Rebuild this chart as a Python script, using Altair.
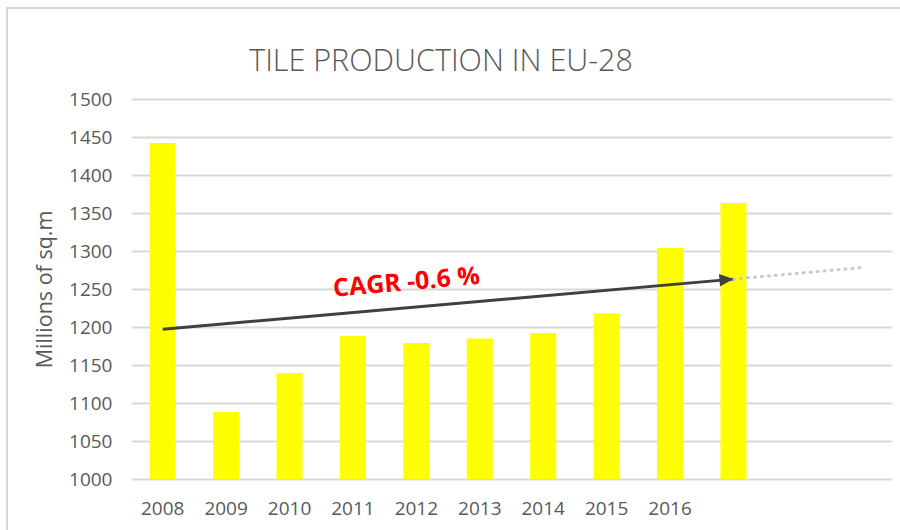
import altair as alt
import pandas as pd

# Yearly production (millions of sq.m); the last slots are left for the trend extension
years = ["2008", "2009", "2010", "2011", "2012", "2013", "2014", "2015", "2016", "2017", "2018", "2019"]
production = [1442, 1088, 1139, 1188, 1179, 1185, 1192, 1218, 1304, 1363, None, None]

# Trend arrow (solid) and its projection (dotted)
trend_years = ["2008", "2017"]
trend_values = [1197, 1263]
proj_years = ["2017", "2019"]
proj_values = [1263, 1278]

label_year = "2012"
label_value = 1260
label_text = "CAGR -0.6 %"

title_text = "TILE PRODUCTION IN EU-28"
y_ticks = [1000, 1050, 1100, 1150, 1200, 1250, 1300, 1350, 1400, 1450, 1500]

GREY_TEXT = "#595959"
GRID = "#d9d9d9"
FONT = "Open Sans"

bars_df = pd.DataFrame({"year": years, "value": production}).dropna()
trend_df = pd.DataFrame({"year": trend_years, "value": trend_values})
proj_df = pd.DataFrame({"year": proj_years, "value": proj_values})
tip_df = trend_df.tail(1)
label_df = pd.DataFrame({"year": [label_year], "value": [label_value], "text": [label_text]})

# Shared encodings, used by every data layer so the axes merge cleanly
x_enc = alt.X(
    "year:N",
    sort=years,
    scale=alt.Scale(domain=years, paddingInner=0.59, paddingOuter=0.295),
    axis=alt.Axis(
        title=None,
        domain=False,
        ticks=False,
        grid=False,
        labelAngle=0,
        labelPadding=20,
        labelFont=FONT,
        labelFontSize=19,
        labelColor=GREY_TEXT,
        labelExpr="toNumber(datum.value) > 2016 ? '' : datum.label",
    ),
)
y_enc = alt.Y(
    "value:Q",
    scale=alt.Scale(domain=[1000, 1500], nice=False, zero=False),
    axis=alt.Axis(
        title="Millions of sq.m",
        values=y_ticks,
        format="d",
        labelOverlap=False,
        domain=False,
        ticks=False,
        grid=True,
        gridColor=GRID,
        gridWidth=2,
        labelPadding=19,
        labelFont=FONT,
        labelFontSize=19,
        labelColor=GREY_TEXT,
        titleFont=FONT,
        titleFontSize=21.5,
        titleFontWeight="normal",
        titleColor=GREY_TEXT,
        titleX=-86,
        titleY=190,
        titleBaseline="middle",
        titleAngle=270,
    ),
)

bars = alt.Chart(bars_df).mark_bar(color="#ffff00").encode(
    x=x_enc, y=y_enc, y2=alt.datum(1000)
)

trend = alt.Chart(trend_df).mark_line(color="#404040", strokeWidth=3).encode(
    x=x_enc, y=y_enc
)

projection = alt.Chart(proj_df).mark_line(
    color="#c8c8c8", strokeWidth=3, strokeDash=[1, 6], strokeCap="round"
).encode(x=x_enc, y=y_enc)

arrow_head = alt.Chart(tip_df).mark_point(
    shape="M0,0L-2,-0.9L-2,0.9Z",
    size=196,
    angle=355,
    filled=True,
    color="#404040",
    opacity=1,
).encode(x=x_enc, y=y_enc)

cagr = alt.Chart(label_df).mark_text(
    color="#ff0000",
    font=FONT,
    fontSize=25,
    fontWeight="bold",
    angle=355,
    align="center",
    baseline="middle",
    dx=-10,
).encode(x=x_enc, y=y_enc, text="text:N")

# Chart heading, centred over the whole figure
heading = alt.Chart(pd.DataFrame({"text": [title_text]})).mark_text(
    font=FONT,
    fontSize=30.5,
    fontWeight=300,
    color=GREY_TEXT,
    align="center",
    baseline="alphabetic",
).encode(
    x=alt.value(310),
    y=alt.value(-28),
    text="text:N",
)

# Light frame around the whole figure
frame = alt.Chart(pd.DataFrame({"k": [0]})).mark_rect(
    fillOpacity=0, stroke=GRID, strokeWidth=2
).encode(
    x=alt.value(-124),
    x2=alt.value(800),
    y=alt.value(-91),
    y2=alt.value(480),
)

chart = alt.layer(frame, bars, trend, projection, arrow_head, cagr, heading).properties(
    width=761,
    height=380,
    autosize=alt.AutoSizeParams(type="none"),
    padding={"left": 131, "top": 99, "right": 8, "bottom": 51},
    background="white",
).configure_view(stroke=None)

chart.save("out.html", embed_options={"renderer": "svg", "actions": False})
